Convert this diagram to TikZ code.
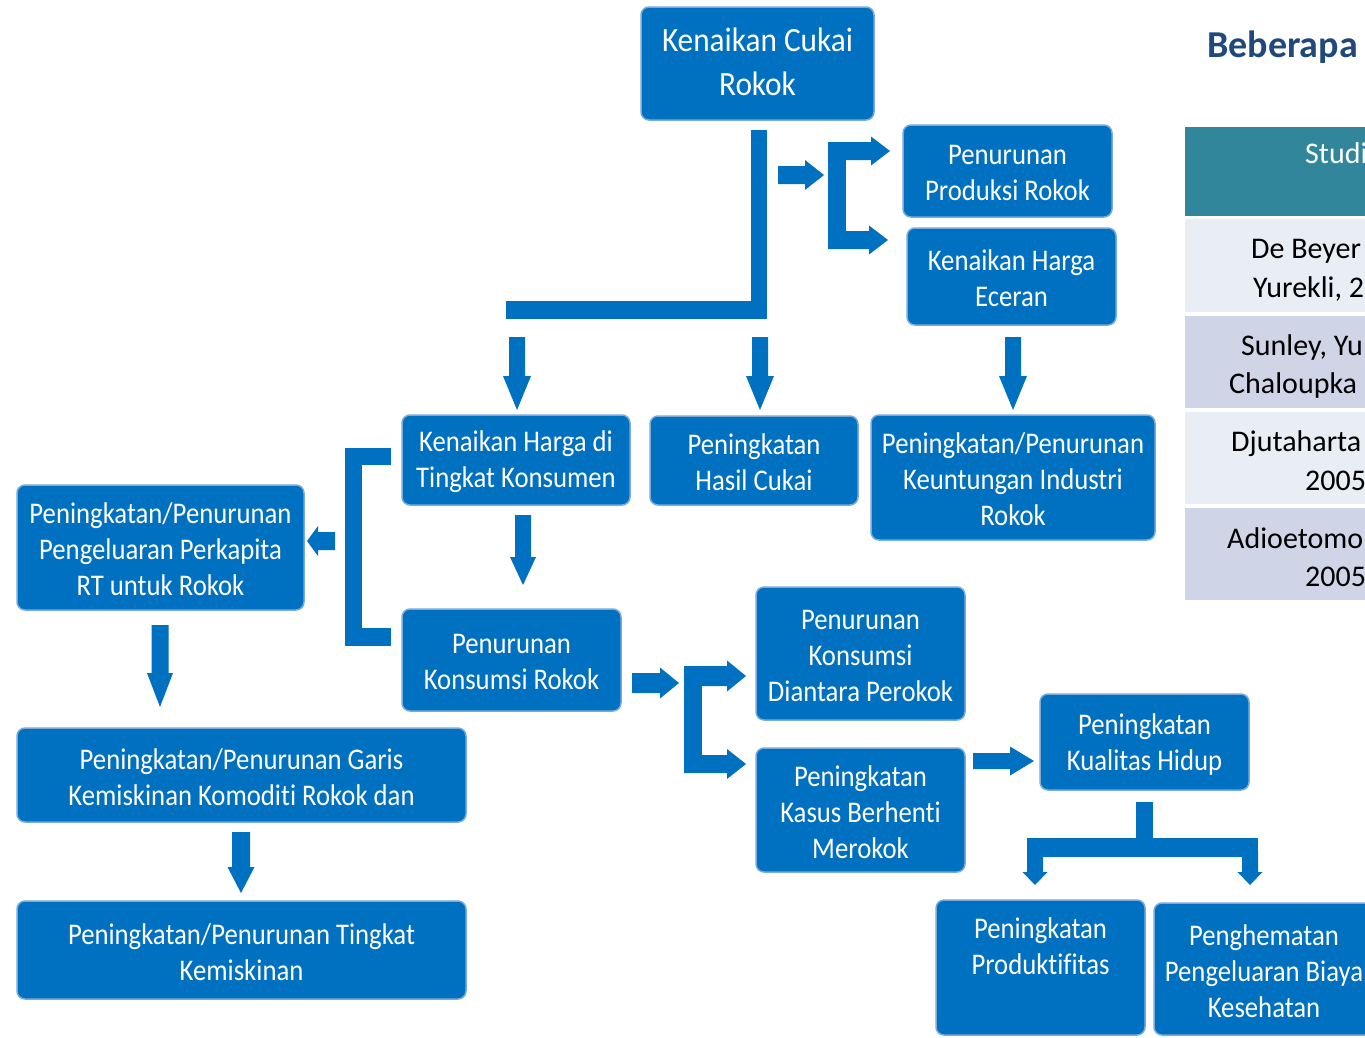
\documentclass[tikz,border=0pt]{standalone}
\usepackage{fontspec}
\newfontfamily\boxfont[FakeStretch=0.89,Ligatures=NoCommon]{Carlito}
\newfontfamily\bigboxfont[FakeStretch=0.92,Ligatures=NoCommon]{Carlito}
\newfontfamily\tabfont[Ligatures=NoCommon]{Carlito}
\definecolor{cblue}{RGB}{0,112,192}
\definecolor{cedge}{RGB}{120,170,220}
\definecolor{cteal}{RGB}{49,134,155}
\definecolor{rowa}{RGB}{233,237,244}
\definecolor{rowb}{RGB}{207,213,230}
\definecolor{ctitle}{RGB}{31,73,125}
\tikzset{
  box/.style={fill=cblue, draw=cedge, line width=1.5pt, rounded corners=8pt, inner sep=0pt},
  boxtext/.style={inner sep=0pt, align=center, text=white, yshift=-2pt,
    font=\boxfont\fontsize{30}{36}\selectfont},
  bigtext/.style={boxtext, yshift=4pt, font=\bigboxfont\fontsize{34}{44}\selectfont},
  tabtext/.style={inner sep=0pt, anchor=base west, font=\tabfont\fontsize{30}{36}\selectfont},
}
\newcommand\bx[7][boxtext]{\node[box, minimum width={#5-#3}, minimum height={#6-#4}] (#2) at ({(#3+#5)/2},{(#4+#6)/2}) {};
  \node[#1] (#2-t) at (#2.center) {#7};}
% down arrow: x, y0, ytip, shaft half, head half, head length
\newcommand\arD[6]{\fill[cblue] ({#1-#4},{#2}) -- ({#1+#4},{#2}) -- ({#1+#4},{#3-#6}) -- ({#1+#5},{#3-#6}) -- ({#1},{#3}) -- ({#1-#5},{#3-#6}) -- ({#1-#4},{#3-#6}) -- cycle;}
% horizontal arrow: y, x0, xtip, shaft half, head half, head length (negative = left)
\newcommand\arR[6]{\fill[cblue] ({#2},{#1-#4}) -- ({#3-#6},{#1-#4}) -- ({#3-#6},{#1-#5}) -- ({#3},{#1}) -- ({#3-#6},{#1+#5}) -- ({#3-#6},{#1+#4}) -- ({#2},{#1+#4}) -- cycle;}
\begin{document}
\begin{tikzpicture}[x=1pt,y=-1pt]
\useasboundingbox (0,0) rectangle (1365,1037);
\clip (0,0) rectangle (1365,1037);
\fill[white] (0,0) rectangle (1365,1037);

% ---- boxes ----
\bx[bigtext]{cukai}{641}{7}{874}{120}{Kenaikan Cukai\\Rokok}
\bx{produksi}{903}{125}{1112}{217}{Penurunan\\Produksi Rokok}
\bx{eceran}{907}{228}{1116}{325}{Kenaikan Harga\\Eceran}
\bx{konsumen}{402}{415}{630}{505}{Kenaikan Harga di\\Tingkat Konsumen}
\bx{hasil}{650}{416}{858}{505}{Peningkatan\\Hasil Cukai}
\bx{untung}{871}{415}{1155}{540}{Peningkatan/Penurunan\\Keuntungan Industri\\Rokok}
\bx{perkapita}{17}{485}{304}{610}{Peningkatan/Penurunan\\Pengeluaran Perkapita\\RT untuk Rokok}
\bx{konsumsi}{402}{609}{621}{711}{Penurunan\\Konsumsi Rokok}
\bx{diantara}{756}{587}{965}{720}{Penurunan\\Konsumsi\\Diantara Perokok}
\bx{berhenti}{756}{748}{965}{872}{Peningkatan\\Kasus Berhenti\\Merokok}
\bx{kualitas}{1040}{694}{1249}{790}{Peningkatan\\Kualitas Hidup}
\bx{garis}{17}{728}{466}{822}{Peningkatan/Penurunan Garis\\Kemiskinan Komoditi Rokok dan}
\bx{tingkat}{17}{901}{466}{999}{Peningkatan/Penurunan Tingkat\\Kemiskinan}
\bx{produktif}{936}{900}{1145}{1035}{Peningkatan\\Produktifitas\\\strut}
\bx{hemat}{1154}{903}{1374}{1035}{Penghematan\\Pengeluaran Biaya\\Kesehatan}

% ---- connectors ----
% from Kenaikan Cukai Rokok
\fill[cblue] (751,130) rectangle (767,319);
\fill[cblue] (506,301) rectangle (767,319);
\arR{175}{778}{824}{9}{15}{19}
% bracket to Produksi / Eceran
\fill[cblue] (828,142) rectangle (846,249);
\arR{151}{828}{890}{9}{14.5}{19}
\arR{240}{828}{888}{9}{14.5}{19}
% down arrows to second row
\arD{517}{337}{410}{8}{14}{34}
\arD{760}{337}{410}{8}{14}{34}
\arD{1013}{337}{410}{8}{14}{34}
% Konsumen -> Konsumsi
\arD{523}{515}{585}{8}{13}{28}
% left bracket
\fill[cblue] (345,448) rectangle (362,646);
\fill[cblue] (345,448) rectangle (391,465);
\fill[cblue] (345,628) rectangle (391,646);
\arR{541}{335}{307}{9}{15}{-11}
% left column
\arD{160}{625}{707}{8.5}{13}{34}
\arD{241}{832}{893}{9}{13.5}{26}
% Konsumsi -> bracket
\arR{683}{632}{679}{10}{15.5}{19}
\fill[cblue] (684,667) rectangle (702,773);
\arR{676}{684}{746}{10}{15.5}{19}
\arR{764}{684}{746}{9}{15}{19}
% Berhenti -> Kualitas
\arR{761}{973}{1034}{8}{14.5}{24}
% Kualitas -> two
\fill[cblue] (1136,802) rectangle (1153,840);
\fill[cblue] (1027,838) rectangle (1258,857);
\arD{1035}{850}{885}{8}{12.5}{13}
\arD{1250}{850}{885}{8}{12.5}{13}

% ---- table on the right ----
\node[inner sep=0pt, anchor=base west, text=ctitle, font=\tabfont\bfseries\fontsize{38}{44}\selectfont] (title) at (1207,57) {Beberapa};
\fill[cteal] (1185,127) rectangle (1380,216);
\fill[rowa] (1185,219) rectangle (1380,312);
\fill[rowb] (1185,316) rectangle (1380,408);
\fill[rowa] (1185,412) rectangle (1380,504);
\fill[rowb] (1185,508) rectangle (1380,600);
\node[tabtext, text=white] (h1) at (1305,163) {Studi};
\node[tabtext] (r1a) at (1251,258) {De Beyer};
\node[tabtext] (r1b) at (1253,297) {Yurekli, 2};
\node[tabtext] (r2a) at (1241,355) {Sunley, Yu};
\node[tabtext] (r2b) at (1229,393) {Chaloupka};
\node[tabtext] (r3a) at (1231,451) {Djutaharta};
\node[tabtext] (r3b) at (1305,490) {2005};
\node[tabtext] (r4a) at (1227,548) {Adioetomo};
\node[tabtext] (r4b) at (1305,586) {2005};
\end{tikzpicture}
\end{document}
